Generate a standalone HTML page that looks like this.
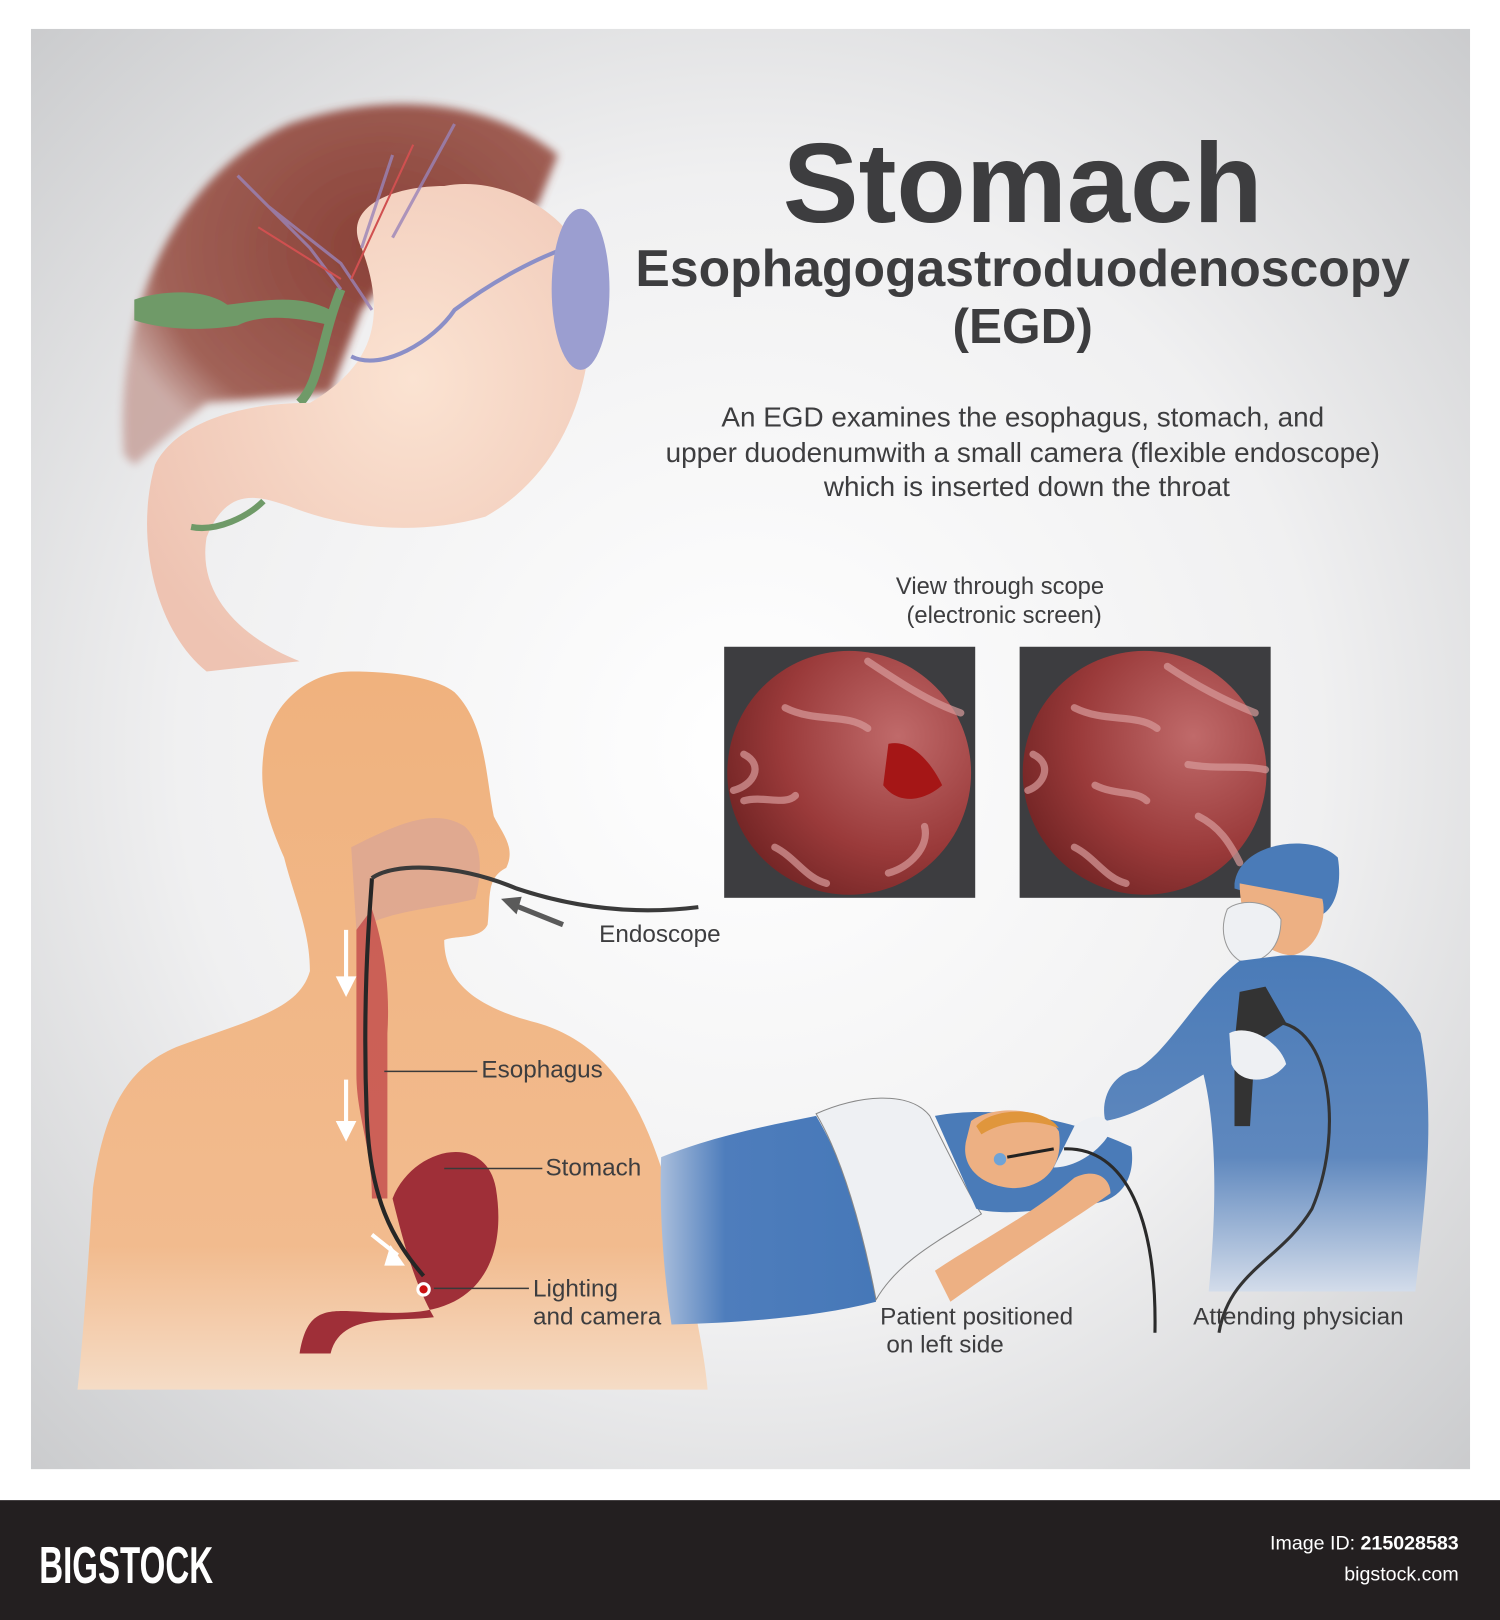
<!DOCTYPE html>
<html><head><meta charset="utf-8"><style>
html,body{margin:0;padding:0;background:#fff;width:1500px;height:1620px;overflow:hidden}
svg{display:block}
text{font-family:"Liberation Sans",sans-serif}
</style></head><body>
<svg width="1500" height="1620" viewBox="0 0 1452 1568" preserveAspectRatio="none" xmlns="http://www.w3.org/2000/svg">
<defs>
<radialGradient id="bg" cx="0.5" cy="0.5" r="0.72">
<stop offset="0" stop-color="#ffffff"/><stop offset="0.55" stop-color="#f0f0f1"/><stop offset="1" stop-color="#c9cacc"/>
</radialGradient>
<radialGradient id="scope" cx="0.7" cy="0.35" r="0.8">
<stop offset="0" stop-color="#c06a6a"/><stop offset="0.6" stop-color="#9a3a3a"/><stop offset="1" stop-color="#6e2222"/>
</radialGradient>
<linearGradient id="body" x1="0" y1="0" x2="0" y2="1">
<stop offset="0" stop-color="#f0b27e"/><stop offset="0.8" stop-color="#f2bb8e"/><stop offset="1" stop-color="#f5dcc6"/>
</linearGradient>
<linearGradient id="doc" x1="0" y1="0" x2="0" y2="1">
<stop offset="0" stop-color="#4a7bb8"/><stop offset="0.6" stop-color="#5f88be"/><stop offset="1" stop-color="#d3dcea"/>
</linearGradient>
<linearGradient id="blanket" x1="0" y1="0" x2="1" y2="0">
<stop offset="0" stop-color="#a9bedc"/><stop offset="0.3" stop-color="#4e7dbc"/><stop offset="1" stop-color="#4678b8"/>
</linearGradient>
<radialGradient id="stom" cx="0.6" cy="0.4" r="0.7">
<stop offset="0" stop-color="#fbe3d2"/><stop offset="1" stop-color="#eec3b2"/>
</radialGradient>
<radialGradient id="liver" cx="0.6" cy="0.4" r="0.65">
<stop offset="0" stop-color="#7f2e24"/><stop offset="0.8" stop-color="#9a5448"/><stop offset="1" stop-color="#c9a6a0"/>
</radialGradient>
<filter id="blur"><feGaussianBlur stdDeviation="4"/></filter>
</defs>
<rect width="1452" height="1568" fill="#fff"/>
<rect x="30" y="28" width="1393" height="1394" fill="url(#bg)"/>

<!-- top anatomy -->
<path d="M120,440 C110,300 170,170 280,120 C380,85 480,100 540,150 L520,200 L420,210 L350,300 L320,380 L200,390 L130,450 Z" fill="url(#liver)" opacity="0.9" filter="url(#blur)"/>
<path d="M130,290 C160,280 200,280 220,295 C260,290 290,285 320,300 L320,315 C280,305 250,305 230,315 C200,320 160,320 130,310 Z" fill="#6f9a68"/>
<path d="M330,280 C310,330 310,370 290,390" stroke="#6f9a68" stroke-width="9" fill="none"/>
<path d="M350,240 C330,200 380,180 430,180 C480,170 540,200 560,240 C590,330 560,450 470,500 C400,520 330,510 280,490 C250,480 220,470 200,520 C190,580 240,620 290,640 L200,650 C150,610 130,520 150,450 C170,410 230,390 300,390 C350,360 380,320 350,240 Z" fill="url(#stom)"/>
<path d="M340,345 C370,360 420,330 440,300 C480,270 520,250 548,240" stroke="#8b8fc7" stroke-width="4" fill="none"/>
<path d="M185,510 C210,515 240,500 255,485" stroke="#6f9a68" stroke-width="6" fill="none"/>
<ellipse cx="562" cy="280" rx="28" ry="78" fill="#9b9ed0"/>
<path d="M230,170 L300,240 L330,280 M260,200 L330,255 L360,300 M380,150 L350,240 M440,120 L380,230" stroke="#9a83b8" stroke-width="3" fill="none" opacity="0.8"/>
<path d="M250,220 L330,270 M400,140 L340,270" stroke="#d05050" stroke-width="2" fill="none"/>

<!-- titles -->
<text x="990" y="215" text-anchor="middle" font-size="110" font-weight="bold" fill="#3d3d3f">Stomach</text>
<text x="990" y="277" text-anchor="middle" font-size="50" font-weight="bold" fill="#3d3d3f">Esophagogastroduodenoscopy</text>
<text x="990" y="332" text-anchor="middle" font-size="48" font-weight="bold" fill="#3d3d3f">(EGD)</text>
<text x="990" y="413" text-anchor="middle" font-size="27" fill="#3d3d3f">An EGD examines the esophagus, stomach, and</text>
<text x="990" y="447" text-anchor="middle" font-size="27" fill="#3d3d3f">upper duodenumwith a small camera (flexible endoscope)</text>
<text x="994" y="480" text-anchor="middle" font-size="27" fill="#3d3d3f">which is inserted down the throat</text>
<text x="968" y="575" text-anchor="middle" font-size="23" fill="#3d3d3f">View through scope</text>
<text x="972" y="603" text-anchor="middle" font-size="23" fill="#3d3d3f">(electronic screen)</text>

<!-- screens -->
<rect x="701" y="626" width="243" height="243" fill="#3d3d40"/>
<circle cx="822" cy="748" r="118" fill="url(#scope)"/>
<path d="M860,720 C880,715 900,735 912,760 C895,775 870,780 855,760 Z" fill="#a51616"/>
<g stroke="#d89b9b" stroke-width="7" fill="none" stroke-linecap="round" opacity="0.7">
<path d="M760,685 C790,700 820,690 840,705"/><path d="M720,730 C740,740 730,760 710,765"/><path d="M750,820 C770,830 780,850 800,855"/><path d="M840,640 C870,660 900,680 930,690"/><path d="M895,800 C900,820 880,840 860,845"/><path d="M720,775 C740,770 760,780 770,770"/>
</g>
<rect x="987" y="626" width="243" height="243" fill="#3d3d40"/>
<circle cx="1108" cy="748" r="118" fill="url(#scope)"/>
<g stroke="#d89b9b" stroke-width="7" fill="none" stroke-linecap="round" opacity="0.7">
<path d="M1040,685 C1070,700 1100,690 1120,705"/><path d="M1000,730 C1020,740 1010,760 995,765"/><path d="M1040,820 C1060,830 1070,850 1090,855"/><path d="M1130,645 C1160,665 1190,680 1215,690"/><path d="M1150,740 C1180,745 1200,740 1225,745"/><path d="M1160,790 C1180,800 1190,815 1200,835"/><path d="M1060,760 C1080,770 1100,765 1110,775"/>
</g>

<!-- human silhouette -->
<path d="M340,650 C300,650 260,680 255,730 C250,770 262,800 275,830 C285,870 300,900 300,940 C290,975 250,985 180,1010 C120,1030 100,1080 90,1150 C85,1230 80,1300 75,1345 L685,1345 C680,1290 660,1210 640,1130 C620,1070 590,1010 520,990 C460,975 430,950 430,910 C440,905 465,910 472,895 C475,870 470,850 490,840 C500,820 485,805 478,790 C470,750 470,700 440,670 C420,655 380,650 340,650 Z" fill="url(#body)"/>
<path d="M340,820 C380,800 420,780 450,800 C470,820 465,850 460,870 C420,880 380,880 345,900 Z" fill="#d9a496" opacity="0.7"/>
<path d="M345,900 L345,1040 C345,1080 360,1110 360,1160 L375,1160 L375,1000 C378,950 370,910 360,880 Z" fill="#c24a4a" opacity="0.8"/>
<path d="M380,1160 C400,1110 470,1095 480,1150 C490,1210 470,1265 400,1270 C330,1275 300,1250 290,1310 L320,1310 C330,1270 380,1280 420,1275 C400,1240 390,1200 380,1160 Z" fill="#9f2f38"/>
<path d="M360,850 C360,860 350,950 355,1080 C358,1160 380,1200 410,1235" stroke="#262626" stroke-width="4" fill="none"/>
<circle cx="410" cy="1248" r="7" fill="#fff"/><circle cx="410" cy="1248" r="4" fill="#c11"/>
<path d="M360,850 C380,835 440,835 500,860 C560,880 620,885 676,878" stroke="#3a3a3a" stroke-width="4" fill="none"/>
<path d="M545,895 L495,875" stroke="#5a5a5a" stroke-width="5"/><path d="M485,870 L505,868 L500,885 Z" fill="#5a5a5a"/>
<g stroke="#fff" stroke-width="4"><path d="M335,900 L335,950"/><path d="M335,1045 L335,1090"/><path d="M360,1195 L385,1215"/></g>
<path d="M325,945 L345,945 L335,965 Z M325,1085 L345,1085 L335,1105 Z M378,1205 L392,1225 L372,1225 Z" fill="#fff"/>
<g stroke="#3a3a3a" stroke-width="1.5"><path d="M372,1037 L462,1037"/><path d="M430,1131 L525,1131"/><path d="M420,1247 L512,1247"/></g>

<!-- patient -->
<path d="M640,1120 C690,1100 740,1090 790,1080 C820,1130 840,1200 848,1260 C790,1275 720,1280 650,1282 C642,1230 638,1170 640,1120 Z" fill="url(#blanket)"/>
<path d="M790,1078 C830,1060 880,1055 900,1080 C920,1120 940,1160 950,1175 C910,1200 870,1220 848,1258 C835,1190 815,1120 790,1078 Z" fill="#eef0f3" stroke="#888" stroke-width="1"/>
<path d="M905,1080 C960,1070 1030,1080 1095,1110 C1100,1140 1085,1170 1040,1165 C1000,1175 960,1175 945,1170 Z" fill="#4a7bb8"/>
<path d="M940,1085 C960,1070 1010,1070 1025,1095 C1030,1130 1010,1150 980,1150 C950,1148 930,1130 935,1105 Z" fill="#edb083"/>
<path d="M945,1090 C960,1072 1010,1070 1025,1092 C1000,1082 970,1085 950,1098 Z" fill="#e0963c"/>
<path d="M905,1230 C950,1200 1000,1175 1040,1140 C1060,1130 1075,1140 1075,1155 C1040,1180 990,1210 920,1260 Z" fill="#edb083"/>
<circle cx="968" cy="1122" r="6" fill="#6fa3d6"/>
<path d="M975,1120 L1020,1112" stroke="#222" stroke-width="3"/>

<!-- physician -->
<path d="M1195,855 C1200,815 1270,805 1295,830 C1300,860 1290,880 1280,885 L1195,860 Z" fill="#4a7bb8"/>
<path d="M1200,855 C1200,890 1215,920 1250,925 C1275,920 1285,890 1280,870 Z" fill="#edb083"/>
<path d="M1188,880 C1200,870 1230,870 1240,890 C1240,920 1220,935 1200,930 C1185,920 1180,900 1188,880 Z" fill="#eef0f3" stroke="#999"/>
<path d="M1240,925 C1300,920 1350,950 1375,1000 C1390,1080 1380,1160 1370,1250 L1170,1250 C1180,1150 1175,1080 1165,1040 C1130,1060 1100,1080 1070,1085 C1065,1065 1075,1040 1100,1035 C1130,1020 1160,960 1200,930 Z" fill="url(#doc)"/>
<path d="M1200,960 L1225,955 L1245,990 L1215,1010 L1210,1090 L1195,1090 L1195,1010 Z" fill="#333"/>
<path d="M1240,990 C1290,1000 1300,1100 1270,1170 C1240,1220 1190,1230 1180,1290" stroke="#333" stroke-width="3" fill="none"/>
<path d="M1190,1000 C1210,990 1240,1010 1245,1030 C1230,1050 1200,1050 1192,1030 Z" fill="#eef0f3"/>
<path d="M1040,1090 C1060,1075 1075,1080 1075,1095 C1065,1115 1040,1130 1020,1130 Z" fill="#eef0f3"/>
<path d="M1030,1112 C1090,1110 1120,1180 1118,1290" stroke="#2a2a2a" stroke-width="3" fill="none"/>

<!-- labels -->
<g font-size="23.5" fill="#3d3d3f">
<text x="580" y="912">Endoscope</text>
<text x="466" y="1043">Esophagus</text>
<text x="528" y="1138">Stomach</text>
<text x="516" y="1255">Lighting</text>
<text x="516" y="1282">and camera</text>
<text x="852" y="1282">Patient positioned</text>
<text x="858" y="1309">on left side</text>
<text x="1155" y="1282">Attending physician</text>
</g>

<!-- footer -->
<rect x="0" y="1452" width="1452" height="116" fill="#231f20"/>
<text x="38" y="1532" font-size="50" font-weight="bold" fill="#fff" transform="scale(0.64,1)" transform-origin="38 1532">BIGSTOCK</text>
<text x="1412" y="1500" text-anchor="end" font-size="19" fill="#fff">Image ID: <tspan font-weight="bold">215028583</tspan></text>
<text x="1412" y="1530" text-anchor="end" font-size="19" fill="#fff">bigstock.com</text>
</svg>
</body></html>
